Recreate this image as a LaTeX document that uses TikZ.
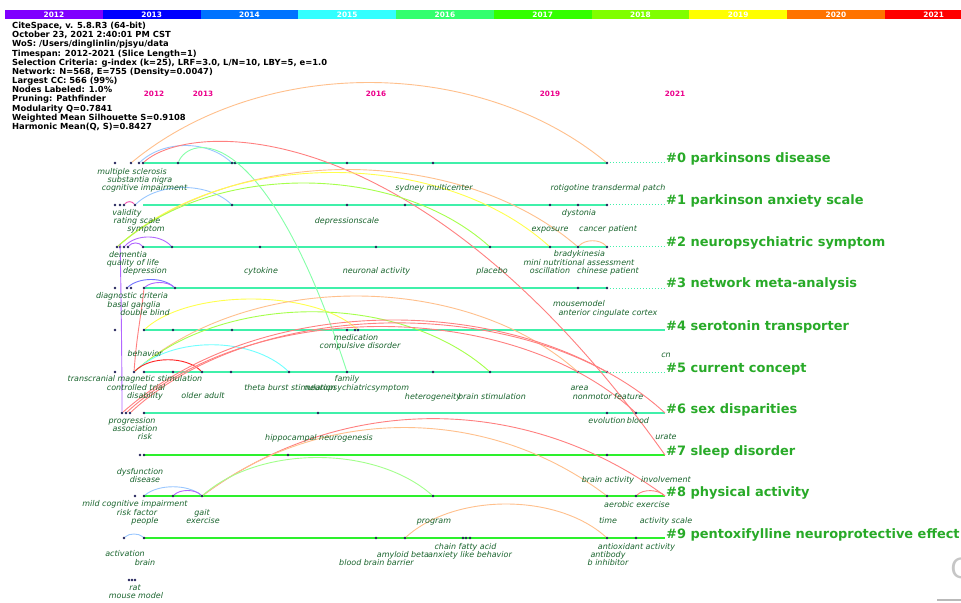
\documentclass[tikz,border=0pt]{standalone}
\usepackage{fontspec}
\setmainfont{DejaVu Sans}
\definecolor{y12}{RGB}{127,0,255}
\definecolor{y13}{RGB}{0,0,255}
\definecolor{y14}{RGB}{0,115,255}
\definecolor{y15}{RGB}{51,255,255}
\definecolor{y16}{RGB}{51,255,110}
\definecolor{y17}{RGB}{51,255,0}
\definecolor{y18}{RGB}{128,255,0}
\definecolor{y19}{RGB}{255,255,0}
\definecolor{y20}{RGB}{255,115,0}
\definecolor{y21}{RGB}{255,0,0}
\definecolor{mint}{RGB}{64,240,170}
\definecolor{lime}{RGB}{45,240,45}
\definecolor{labgreen}{RGB}{25,100,45}
\definecolor{clugreen}{RGB}{40,170,40}
\definecolor{dotblue}{RGB}{35,35,90}
\tikzset{
	dot/.style={circle, fill=dotblue, inner sep=0, minimum size=2.6bp},
	lab/.style={font=\itshape\fontsize{8}{9}\selectfont, text=labgreen, inner sep=0, anchor=base},
	clu/.style={font=\bfseries\fontsize{13}{15}\selectfont, text=clugreen, inner sep=0, anchor=base west},
	yr/.style={font=\bfseries\fontsize{7.3}{8}\selectfont, text=magenta, inner sep=0},
	barlab/.style={font=\bfseries\fontsize{7.4}{8}\selectfont, text=white, inner sep=0},
	tl/.style={line width=2.6bp, mint},
	tlg/.style={line width=2.6bp, lime},
	ext/.style={line width=1bp, mint, dotted},
	arc/.style={line width=0.9bp},
	a-or/.style={arc, y20!45},
	a-red/.style={arc, y21!50},
	a-dred/.style={arc, y21!85},
	a-blue/.style={arc, y14!40},
	a-cg/.style={arc, y16!60},
	a-cy/.style={arc, y15!70},
	a-yel/.style={arc, y19!70},
	a-gy/.style={arc, y18!70},
	a-pur/.style={arc, y12!60},
	a-bl/.style={arc, y13!55},
	a-gr/.style={arc, y17!45},
	a-mag/.style={arc, magenta!70}
}
\begin{document}
\begin{tikzpicture}[x=1bp, y=-1bp]
	% Paths, nodes and wires:
	\useasboundingbox[fill=white] (0,0) rectangle (961,603);
	\foreach \c/\y [count=\i from 0] in {y12/2012, y13/2013, y14/2014, y15/2015, y16/2016, y17/2017, y18/2018, y19/2019, y20/2020, y21/2021}{
		\fill[\c] ({5+97.75*\i},10) rectangle +(97.75,9.5);
		\node[barlab] (bar\y) at ({53.9+97.75*\i},15) {\y};
	}
	\node[font=\bfseries\fontsize{8.4}{9.2}\selectfont, align=left, inner sep=0, anchor=north west] (info) at (12,22) {CiteSpace, v. 5.8.R3 (64-bit)\\October 23, 2021 2:40:01 PM CST\\WoS: /Users/dinglinlin/pjsyu/data\\Timespan: 2012-2021 (Slice Length=1)\\Selection Criteria: g-index (k=25), LRF=3.0, L/N=10, LBY=5, e=1.0\\Network: N=568, E=755 (Density=0.0047)\\Largest CC: 566 (99\%)\\Nodes Labeled: 1.0\%\\Pruning: Pathfinder\\Modularity Q=0.7841\\Weighted Mean Silhouette S=0.9108\\Harmonic Mean(Q, S)=0.8427};
	\node[yr] (t2012) at (154,94) {2012};
	\node[yr] (t2013) at (203,94) {2013};
	\node[yr] (t2016) at (376,94) {2016};
	\node[yr] (t2019) at (550,94) {2019};
	\node[yr] (t2021) at (675,94) {2021};
	% timelines
	\foreach \r/\y in {0/163, 1/205, 2/247, 3/288, 4/330, 5/372, 6/413, 7/455, 8/496, 9/538}{
		\coordinate (s\r) at (143,\y);
		\coordinate (m\r) at (607,\y);
		\coordinate (e\r) at (665,\y);
	}
	\foreach \r in {0,1,2,3,5}{
		\draw[tl] (s\r) -- (m\r);
		\draw[ext] (m\r) -- (e\r);
	}
	\draw[tl] (s4) -- (e4);
	\draw[tl] (s6) -- (e6);
	\foreach \r in {7,8,9} \draw[tlg] (s\r) -- (e\r);
	% cluster names
	\node[clu] (c0) at (666,163) {\#0 parkinsons disease};
	\node[clu] (c1) at (666,205) {\#1 parkinson anxiety scale};
	\node[clu] (c2) at (666,247) {\#2 neuropsychiatric symptom};
	\node[clu] (c3) at (666,288) {\#3 network meta-analysis};
	\node[clu] (c4) at (666,330) {\#4 serotonin transporter};
	\node[clu] (c5) at (666,372) {\#5 current concept};
	\node[clu] (c6) at (666,413) {\#6 sex disparities};
	\node[clu] (c7) at (666,455) {\#7 sleep disorder};
	\node[clu] (c8) at (666,496) {\#8 physical activity};
	\node[clu] (c9) at (666,538) {\#9 pentoxifylline neuroprotective effect};
	% articles
	\foreach \x in {115,131,139,143,178,232,235,347,433,607} \node[dot] (d0-\x) at (\x,163) {};
	\foreach \x in {115,120,124,135,232,347,405,550,578,607} \node[dot] (d1-\x) at (\x,205) {};
	\foreach \x in {117,120,124,128,143,172,260,376,490,550,578,607} \node[dot] (d2-\x) at (\x,247) {};
	\foreach \x in {115,127,131,144,175,578,607} \node[dot] (d3-\x) at (\x,288) {};
	\foreach \x in {115,144,173,232,347,355,358} \node[dot] (d4-\x) at (\x,330) {};
	\foreach \x in {115,134,144,173,202,231,289,347,433,490,578,607} \node[dot] (d5-\x) at (\x,372) {};
	\foreach \x in {122,126,130,144,318,607,636} \node[dot] (d6-\x) at (\x,413) {};
	\foreach \x in {140,144,288,607} \node[dot] (d7-\x) at (\x,455) {};
	\foreach \x in {135,144,173,202,433,607,636} \node[dot] (d8-\x) at (\x,496) {};
	\foreach \x in {124,144,376,405,463,466,470,607,636} \node[dot] (d9-\x) at (\x,538) {};
	\foreach \x in {129,132,135} \node[dot] (dx-\x) at (\x,580) {};
	% links
	\draw[a-or] (d0-131) .. controls +(130,-107) and +(-130,-107) .. (d0-607);
	\draw[a-blue] (d0-139) .. controls +(25,-23) and +(-25,-23) .. (d0-232);
	\draw[a-red] (d0-143) .. controls (190,120) and (420,110) .. (e7);
	\draw[a-cg] (d0-178) .. controls (190,135) and (265,120) .. (d5-347);
	\draw[a-blue] (d1-135) .. controls +(24,-23) and +(-24,-23) .. (d1-232);
	\draw[a-mag] (d1-124) .. controls +(3,-4) and +(-3,-4) .. (d1-135);
	\draw[a-or] (d2-117) .. controls +(120,-103) and +(-120,-103) .. (d2-578);
	\draw[a-yel] (d2-117) .. controls +(110,-99) and +(-110,-99) .. (d2-550);
	\draw[a-gy] (d2-117) .. controls +(95,-85) and +(-95,-85) .. (d2-490);
	\draw[a-or] (d2-578) .. controls +(7,-8) and +(-7,-8) .. (d2-607);
	\draw[a-pur] (d2-124) .. controls +(12,-13) and +(-12,-13) .. (d2-172);
	\draw[a-pur] (d2-128) .. controls +(4,-5) and +(-4,-5) .. (d2-143);
	\draw[a-pur] (d2-120) .. controls +(0,-18) and +(0,-70) .. (d6-122);
	\draw[a-bl] (d3-127) .. controls +(12,-11) and +(-12,-11) .. (d3-175);
	\draw[a-pur] (d3-144) .. controls +(8,-7) and +(-8,-7) .. (d3-175);
	\draw[a-red] (d5-134) .. controls +(3,-40) and +(-3,30) .. (d3-144);
	\draw[a-yel] (d4-144) .. controls +(45,-41) and +(-45,-41) .. (d4-358);
	\draw[a-or] (d5-134) .. controls +(115,-101) and +(-115,-101) .. (d5-578);
	\draw[a-gy] (d5-134) .. controls +(90,-80) and +(-90,-80) .. (d5-490);
	\draw[a-cy] (d5-134) .. controls +(38,-36) and +(-38,-36) .. (d5-289);
	\draw[a-dred] (d5-134) .. controls +(16,-16) and +(-16,-16) .. (d5-202);
	\draw[a-red] (d6-122) .. controls (250,300) and (470,295) .. (d5-607);
	\draw[a-red] (d6-126) .. controls +(125,-115) and +(-125,-115) .. (d6-636);
	\draw[a-red] (d6-130) .. controls +(130,-120) and +(-130,-120) .. (e6);
	\draw[a-red] (d8-202) .. controls +(140,-103) and +(-140,-103) .. (e8);
	\draw[a-or] (d8-202) .. controls +(120,-91) and +(-120,-91) .. (d8-607);
	\draw[a-gr] (d8-202) .. controls +(58,-51) and +(-58,-51) .. (d8-433);
	\draw[a-blue] (d8-144) .. controls +(14,-12) and +(-14,-12) .. (d8-202);
	\draw[a-pur] (d8-173) .. controls +(7,-7) and +(-7,-7) .. (d8-202);
	\draw[a-red] (d8-636) .. controls +(7,-7) and +(-7,-7) .. (e8);
	\draw[a-or] (d9-405) .. controls +(50,-45) and +(-50,-45) .. (d9-607);
	\draw[a-blue] (d9-124) .. controls +(5,-5) and +(-5,-5) .. (d9-144);
	% keywords
	\node[lab] (l-ms) at (132,174.5) {multiple sclerosis};
	\node[lab] (l-sn) at (140,182.5) {substantia nigra};
	\node[lab] (l-ci) at (144.5,190.5) {cognitive impairment};
	\node[lab] (l-sydney) at (434,190.5) {sydney multicenter};
	\node[lab] (l-roti) at (608,190.5) {rotigotine transdermal patch};
	\node[lab] (l-validity) at (127,215.5) {validity};
	\node[lab] (l-rating) at (137,223.5) {rating scale};
	\node[lab] (l-symptom) at (146,231.5) {symptom};
	\node[lab] (l-depscale) at (347,223.5) {depressionscale};
	\node[lab] (l-dystonia) at (579,215.5) {dystonia};
	\node[lab] (l-exposure) at (550,231.5) {exposure};
	\node[lab] (l-cancer) at (608,231.5) {cancer patient};
	\node[lab] (l-dementia) at (128,257.5) {dementia};
	\node[lab] (l-qol) at (133,265.5) {quality of life};
	\node[lab] (l-depression) at (145,273.5) {depression};
	\node[lab] (l-cytokine) at (261,273.5) {cytokine};
	\node[lab] (l-neuronal) at (376.5,273.5) {neuronal activity};
	\node[lab] (l-placebo) at (492,273.5) {placebo};
	\node[lab] (l-brady) at (579.5,256.5) {bradykinesia};
	\node[lab] (l-mini) at (579,265.5) {mini nutritional assessment};
	\node[lab] (l-oscill) at (550,273.5) {oscillation};
	\node[lab] (l-chinese) at (608,273.5) {chinese patient};
	\node[lab] (l-diag) at (132,298.5) {diagnostic criteria};
	\node[lab] (l-basal) at (134,307.5) {basal ganglia};
	\node[lab] (l-double) at (145,315.5) {double blind};
	\node[lab] (l-mousem) at (579,306.5) {mousemodel};
	\node[lab] (l-acc) at (608,315.5) {anterior cingulate cortex};
	\node[lab] (l-medication) at (356,340.5) {medication};
	\node[lab] (l-compulsive) at (360,348.5) {compulsive disorder};
	\node[lab] (l-behavior) at (145,356.5) {behavior};
	\node[lab] (l-cn) at (666,357.5) {cn};
	\node[lab] (l-tms) at (135,381.5) {transcranial magnetic stimulation};
	\node[lab] (l-trial) at (136,390.5) {controlled trial};
	\node[lab] (l-disability) at (145,398.5) {disability};
	\node[lab] (l-older) at (203,398.5) {older adult};
	\node[lab] (l-family) at (347,381.5) {family};
	\node[lab] (l-theta) at (290,390.5) {theta burst stimulation};
	\node[lab] (l-nps) at (357,390.5) {neuropsychiatricsymptom};
	\node[lab] (l-hetero) at (433,399.5) {heterogeneity};
	\node[lab] (l-brainstim) at (492,399.5) {brain stimulation};
	\node[lab] (l-area) at (579.5,390.5) {area};
	\node[lab] (l-nonmotor) at (608,399.5) {nonmotor feature};
	\node[lab] (l-progression) at (132,423.5) {progression};
	\node[lab] (l-association) at (135,431.5) {association};
	\node[lab] (l-risk) at (145,439.5) {risk};
	\node[lab] (l-evolution) at (607,423.5) {evolution};
	\node[lab] (l-blood) at (638,423.5) {blood};
	\node[lab] (l-hippo) at (319,440.5) {hippocampal neurogenesis};
	\node[lab] (l-urate) at (666,439.5) {urate};
	\node[lab] (l-dysfunction) at (140,474.5) {dysfunction};
	\node[lab] (l-disease) at (145,482.5) {disease};
	\node[lab] (l-brainact) at (608,482.5) {brain activity};
	\node[lab] (l-involvement) at (666,482.5) {involvement};
	\node[lab] (l-mci) at (135,506.5) {mild cognitive impairment};
	\node[lab] (l-riskfactor) at (137,515.5) {risk factor};
	\node[lab] (l-people) at (145,523.5) {people};
	\node[lab] (l-gait) at (202,515.5) {gait};
	\node[lab] (l-exercise) at (203,523.5) {exercise};
	\node[lab] (l-aerobic) at (637,507.5) {aerobic exercise};
	\node[lab] (l-program) at (434,523.5) {program};
	\node[lab] (l-time) at (608,523.5) {time};
	\node[lab] (l-actscale) at (666,523.5) {activity scale};
	\node[lab] (l-activation) at (125,556.5) {activation};
	\node[lab] (l-brain) at (145,565.5) {brain};
	\node[lab] (l-chain) at (465.5,549.5) {chain fatty acid};
	\node[lab] (l-amyloid) at (403,557.5) {amyloid beta};
	\node[lab] (l-anxiety) at (470,557.5) {anxiety like behavior};
	\node[lab] (l-bbb) at (376.5,565.5) {blood brain barrier};
	\node[lab] (l-antiox) at (636.5,549.5) {antioxidant activity};
	\node[lab] (l-antibody) at (608,557.5) {antibody};
	\node[lab] (l-binhib) at (608,565.5) {b inhibitor};
	\node[lab] (l-rat) at (135,590.5) {rat};
	\node[lab] (l-mouse) at (136,598.5) {mouse model};
	% logo remains
	\node[font=\fontsize{28}{30}\selectfont, text=gray!45, inner sep=0] (logo) at (960,568) {C};
	\draw[gray!55, line width=1.5bp] (937,600) -- (961,600);
\end{tikzpicture}
\end{document}
